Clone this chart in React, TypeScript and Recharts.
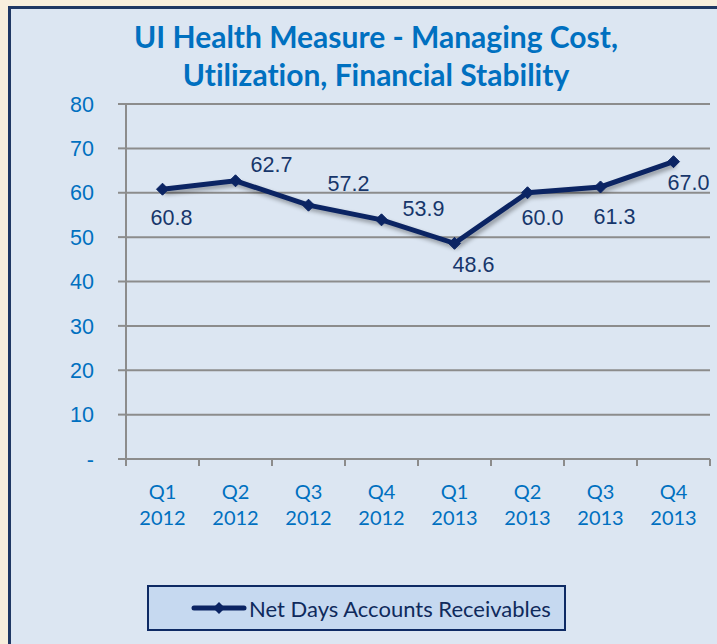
import { LineChart, Line, XAxis, YAxis, CartesianGrid, LabelList } from "recharts"

const quarters = ["Q1 2012", "Q2 2012", "Q3 2012", "Q4 2012", "Q1 2013", "Q2 2013", "Q3 2013", "Q4 2013"]
const netDays = [60.8, 62.7, 57.2, 53.9, 48.6, 60.0, 61.3, 67.0]
const yTicks = [0, 10, 20, 30, 40, 50, 60, 70, 80]
const seriesName = "Net Days Accounts Receivables"
const titleLines = ["UI Health Measure - Managing Cost,", "Utilization, Financial Stability"]

const data = quarters.map((q, i) => ({ quarter: q, value: netDays[i] }))

const NAVY = "#0b2463"
const BLUE = "#0070c0"
const GRID = "#8c8c8c"

// where Excel put each data label, relative to its point
const labelShift = [
  [9, 29], [36, -16], [40, -21], [42, -11],
  [19, 22], [15, 25], [14, 30], [15, 21]
]

function Diamond(props: any) {
  const { cx, cy, index } = props
  if (cx == null || cy == null) return null
  const s = 6
  return (
    <path
      key={"d" + index}
      d={`M${cx},${cy - s}L${cx + s},${cy}L${cx},${cy + s}L${cx - s},${cy}Z`}
      fill={NAVY}
      stroke={NAVY}
    />
  )
}

function PointLabel(props: any) {
  const { x, y, value, index } = props
  const [dx, dy] = labelShift[index] || [0, -15]
  return (
    <text
      x={x + dx}
      y={y + dy}
      textAnchor="middle"
      dominantBaseline="central"
      fill="#17366b"
      fontFamily="'Liberation Sans', Arial, sans-serif"
      fontSize={21.5}
    >
      {Number(value).toFixed(1)}
    </text>
  )
}

function QuarterTick(props: any) {
  const { x, y, payload, index, visibleTicksCount } = props
  const [q, yr] = String(payload.value).split(" ")
  const half = payload.offset || 36.5
  const last = index === visibleTicksCount - 1
  return (
    <g>
      <line x1={x - half} x2={x - half} y1={y} y2={y + 7} stroke={GRID} strokeWidth={2} />
      {last && <line x1={x + half} x2={x + half} y1={y} y2={y + 7} stroke={GRID} strokeWidth={2} />}
      <text textAnchor="middle" fill={BLUE} fontFamily="Lato, sans-serif" fontSize={20}>
        <tspan x={x} y={y + 40}>{q}</tspan>
        <tspan x={x} y={y + 66}>{yr}</tspan>
      </text>
    </g>
  )
}

export default function App() {
  return (
    <div style={{ position: "absolute", left: 0, top: 0, width: 717, height: 644, background: "#f8efdd", overflow: "hidden" }}>
      <style>{`.recharts-line-curve{filter:drop-shadow(2px 3px 2px rgba(0,0,0,0.35))}`}</style>
      <div
        style={{
          position: "absolute", left: 8, top: 6, width: 730, height: 660,
          background: "#dce6f2", border: "3px solid #1f3864", boxSizing: "border-box"
        }}
      />
      <div
        style={{
          position: "absolute", left: 0, top: 17, width: 752, textAlign: "center",
          fontFamily: "Lato, sans-serif", fontWeight: 700, fontSize: 30, lineHeight: "38px", color: BLUE,
          fontVariantLigatures: "none"
        }}
      >
        {titleLines.map((t) => (
          <div key={t}>{t}</div>
        ))}
      </div>
      <div style={{ position: "absolute", left: 0, top: 0 }}>
        <LineChart width={717} height={644} data={data} margin={{ top: 104, right: 7, left: 0, bottom: 0 }}>
          <CartesianGrid vertical={false} stroke={GRID} strokeWidth={2} />
          <XAxis
            dataKey="quarter"
            scale="band"
            height={185}
            axisLine={{ stroke: GRID, strokeWidth: 2 }}
            tickLine={false}
            tickSize={0}
            tickMargin={0}
            interval={0}
            tick={<QuarterTick />}
          />
          <YAxis
            width={126}
            domain={[0, 80]}
            ticks={yTicks}
            interval={0}
            axisLine={{ stroke: GRID, strokeWidth: 2 }}
            tickLine={{ stroke: GRID, strokeWidth: 2 }}
            tickSize={8}
            tickMargin={24}
            tickFormatter={(v: number) => (v === 0 ? "-" : String(v))}
            tick={{ fill: BLUE, fontSize: 21.5, fontFamily: "'Liberation Sans', Arial, sans-serif" }}
          />
          <Line
            type="linear"
            dataKey="value"
            name={seriesName}
            stroke={NAVY}
            strokeWidth={5}
            dot={<Diamond />}
            activeDot={false}
            isAnimationActive={false}
          >
            <LabelList dataKey="value" content={<PointLabel />} />
          </Line>
        </LineChart>
      </div>
      <div
        style={{
          position: "absolute", left: 147, top: 585, width: 419, height: 46,
          background: "#c6d9f0", border: "2px solid #0e2a64", boxSizing: "border-box",
          display: "flex", alignItems: "center"
        }}
      >
        <svg width={56} height={14} style={{ marginLeft: 42 }}>
          <line x1={3} x2={53} y1={7} y2={7} stroke={NAVY} strokeWidth={5} strokeLinecap="round" />
          <path d="M28,1L34,7L28,13L22,7Z" fill={NAVY} />
        </svg>
        <span style={{ fontFamily: "Lato, sans-serif", fontSize: 22, color: "#0f2a5c", marginLeft: 2 }}>{seriesName}</span>
      </div>
    </div>
  )
}
